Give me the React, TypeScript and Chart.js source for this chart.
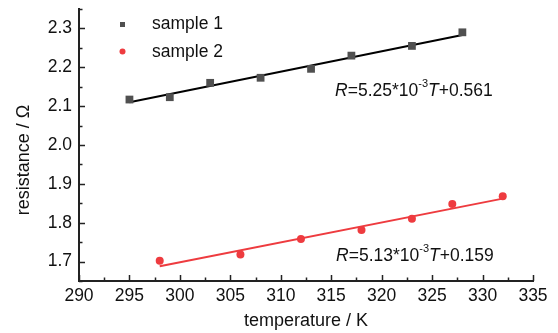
import React, { useEffect, useRef } from "react";
import { Chart, registerables } from "chart.js";

Chart.register(...registerables);

// ---- data ----
const sample1T = [295, 299, 303, 308, 313, 317, 323, 328];
const sample1R = [2.117, 2.123, 2.16, 2.173, 2.196, 2.23, 2.255, 2.29];
const sample2T = [298, 306, 312, 318, 323, 327, 332];
const sample2R = [1.702, 1.718, 1.758, 1.781, 1.81, 1.848, 1.868];
const fit1T = [295, 328];
const fit1R = [2.11, 2.283];
const fit2T = [298, 332];
const fit2R = [1.688, 1.862];
const xTicks = [290, 295, 300, 305, 310, 315, 320, 325, 330, 335];
const yTicks = [1.7, 1.8, 1.9, 2.0, 2.1, 2.2, 2.3];
const xMinor = [292.5, 297.5, 302.5, 307.5, 312.5, 317.5, 322.5, 327.5, 332.5];
const yMinor = [1.65, 1.75, 1.85, 1.95, 2.05, 2.15, 2.25, 2.35];
const legendLabels = ["sample 1", "sample 2"];
const eq1 = { slope: "5.25", intercept: "0.561", T: 323.2, R: 2.139 };
const eq2 = { slope: "5.13", intercept: "0.159", T: 323.3, R: 1.715 };

const FONT = "'Liberation Sans', Arial, sans-serif";
const GRAY = "#505050";
const RED = "#ee3b3f";

const pts = (xs: number[], ys: number[]) => xs.map((x, i) => ({ x, y: ys[i] }));

const overlay = {
  id: "overlay",
  afterDraw(chart: any) {
    const { ctx, chartArea, scales } = chart;
    const xs = scales.x;
    const ys = scales.y;
    ctx.save();
    ctx.strokeStyle = "#222";
    ctx.lineWidth = 1.5;
    // inward ticks
    ctx.beginPath();
    xTicks.forEach((v) => {
      const px = Math.round(xs.getPixelForValue(v)) + 0.5;
      ctx.moveTo(px, chartArea.bottom);
      ctx.lineTo(px, chartArea.bottom - 6);
    });
    xMinor.forEach((v) => {
      const px = Math.round(xs.getPixelForValue(v)) + 0.5;
      ctx.moveTo(px, chartArea.bottom);
      ctx.lineTo(px, chartArea.bottom - 3.5);
    });
    yTicks.forEach((v) => {
      const py = Math.round(ys.getPixelForValue(v)) + 0.5;
      ctx.moveTo(chartArea.left, py);
      ctx.lineTo(chartArea.left + 6, py);
    });
    yMinor.forEach((v) => {
      const py = Math.round(ys.getPixelForValue(v)) + 0.5;
      ctx.moveTo(chartArea.left, py);
      ctx.lineTo(chartArea.left + 3.5, py);
    });
    ctx.stroke();

    // axis titles
    ctx.fillStyle = "#111";
    ctx.font = `18px ${FONT}`;
    ctx.textAlign = "center";
    ctx.textBaseline = "middle";
    ctx.fillText("temperature / K", (chartArea.left + chartArea.right) / 2, 321);
    ctx.save();
    ctx.translate(24, 160);
    ctx.rotate(-Math.PI / 2);
    ctx.fillText("resistance / \u03A9", 0, 0);
    ctx.restore();

    // legend
    ctx.font = `17.5px ${FONT}`;
    ctx.textAlign = "left";
    ctx.fillStyle = GRAY;
    ctx.fillRect(120, 22, 5, 5);
    ctx.fillStyle = RED;
    ctx.beginPath();
    ctx.arc(122.5, 51.5, 3, 0, Math.PI * 2);
    ctx.fill();
    ctx.fillStyle = "#111";
    ctx.fillText(legendLabels[0], 152, 24);
    ctx.fillText(legendLabels[1], 152, 52);

    // equations
    const drawEq = (eq: any) => {
      let x = xs.getPixelForValue(eq.T);
      const y = ys.getPixelForValue(eq.R);
      const parts: [string, string, number][] = [
        ["R", "italic", 0],
        ["=" + eq.slope + "*10", "normal", 0],
        ["-3", "sup", -7],
        ["T", "italic", 0],
        ["+" + eq.intercept, "normal", 0],
      ];
      const fontFor = (k: string) =>
        k === "italic" ? `italic 17.5px ${FONT}` : k === "sup" ? `11px ${FONT}` : `17.5px ${FONT}`;
      let total = 0;
      parts.forEach(([t, k]) => {
        ctx.font = fontFor(k);
        total += ctx.measureText(t).width;
      });
      x = x - total / 2;
      ctx.textBaseline = "middle";
      parts.forEach(([t, k, dy]) => {
        ctx.font = fontFor(k);
        ctx.fillText(t, x, y + dy);
        x += ctx.measureText(t).width;
      });
    };
    drawEq(eq1);
    drawEq(eq2);
    ctx.restore();
  },
};

export default function App() {
  const ref = useRef<HTMLCanvasElement | null>(null);
  useEffect(() => {
    if (!ref.current) return;
    const chart = new Chart(ref.current, {
      type: "scatter",
      data: {
        datasets: [
          {
            label: legendLabels[0],
            data: pts(sample1T, sample1R),
            pointStyle: "rect",
            pointRadius: 5.5,
            backgroundColor: GRAY,
            borderWidth: 0,
            showLine: false,
            order: 0,
          },
          {
            label: legendLabels[1],
            data: pts(sample2T, sample2R),
            pointStyle: "circle",
            pointRadius: 4,
            backgroundColor: RED,
            borderWidth: 0,
            showLine: false,
            order: 0,
          },
          {
            label: "fit 1",
            data: pts(fit1T, fit1R),
            showLine: true,
            borderColor: "#000",
            borderWidth: 2,
            pointRadius: 0,
            order: 1,
          },
          {
            label: "fit 2",
            data: pts(fit2T, fit2R),
            showLine: true,
            borderColor: RED,
            borderWidth: 2,
            pointRadius: 0,
            order: 1,
          },
        ],
      },
      options: {
        responsive: false,
        animation: false,
        layout: { padding: { left: 0, top: 9, right: 25, bottom: 0 } },
        plugins: { legend: { display: false }, tooltip: { enabled: false } },
        scales: {
          x: {
            type: "linear",
            min: 290,
            max: 335,
            grid: { display: false, drawTicks: false },
            border: { display: true, color: "#222", width: 2 },
            ticks: {
              padding: 5,
              color: "#111",
              font: { family: FONT, size: 17.5 },
              callback: (v: any) => String(v),
            },
            afterBuildTicks: (s: any) => {
              s.ticks = xTicks.map((value) => ({ value }));
            },
            afterFit: (s: any) => {
              s.height = 52;
              s.paddingLeft = 0;
              s.paddingRight = 0;
            },
          },
          y: {
            type: "linear",
            min: 1.65,
            max: 2.35,
            grid: { display: false, drawTicks: false },
            border: { display: true, color: "#222", width: 2 },
            ticks: {
              padding: 7,
              color: "#111",
              font: { family: FONT, size: 17.5 },
              callback: (v: any) => Number(v).toFixed(1),
            },
            afterBuildTicks: (s: any) => {
              s.ticks = yTicks.map((value) => ({ value }));
            },
            afterFit: (s: any) => {
              s.width = 79;
              s.paddingTop = 0;
              s.paddingBottom = 0;
            },
          },
        },
      },
      plugins: [overlay],
    });
    return () => chart.destroy();
  }, []);
  return (
    <canvas
      ref={ref}
      width={558}
      height={333}
      style={{ position: "absolute", left: 0, top: 0, width: 558, height: 333 }}
    />
  );
}
